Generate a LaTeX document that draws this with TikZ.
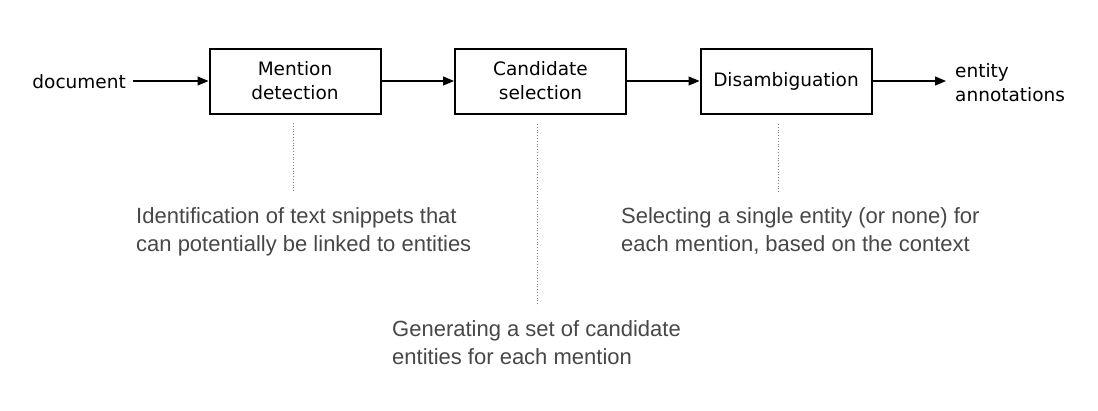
\documentclass[tikz,border=0pt]{standalone}
\usepackage{fontspec}
\setmainfont{DejaVu Sans}
\newfontfamily\descfont{Liberation Sans}
\usetikzlibrary{arrows.meta}
\begin{document}
\begin{tikzpicture}[x=1pt,y=-1pt,
  stagebox/.style={draw,line width=2pt,minimum width=171pt,minimum height=65pt,align=center,font=\fontsize{18.5}{24}\selectfont,inner sep=0pt},
  flow/.style={-{Triangle[length=11pt,width=9pt]},line width=1.2pt},
  guide/.style={gray,dotted,line width=0.8pt},
  desc/.style={anchor=north west,align=left,font=\descfont\fontsize{22}{28}\selectfont,text=black!72,inner sep=0pt},
  io/.style={font=\fontsize{18.5}{24}\selectfont,inner sep=0pt,align=left}]
\useasboundingbox (0,0) rectangle (1098,410);
\node[stagebox] (md) at (295,81) {Mention\\detection};
\node[stagebox] (cs) at (540.5,81) {Candidate\\selection};
\node[stagebox] (da) at (786,81) {Disambiguation};
\node[io,anchor=east] (doc) at (126,82) {document};
\node[io,anchor=west] (ea) at (955,83) {entity\\annotations};
\draw[flow] ([xshift=7pt]doc.east|-md.west) -- (md.west);
\draw[flow] (md.east) -- (cs.west);
\draw[flow] (cs.east) -- (da.west);
\draw[flow] (da.east) -- ([xshift=-9pt]ea.west|-da.east);
\node[desc] (t1) at (136,207) {Identification of text snippets that\\can potentially be linked to entities};
\node[desc] (t2) at (392,320) {Generating a set of candidate\\entities for each mention};
\node[desc] (t3) at (621,207) {Selecting a single entity (or none) for\\each mention, based on the context};
\coordinate (g1) at (293,192);
\coordinate (g2) at (537,306);
\coordinate (g3) at (778,192);
\draw[guide] (293,123) -- (g1);
\draw[guide] (537,124) -- (g2);
\draw[guide] (778,124) -- (g3);
\end{tikzpicture}
\end{document}
